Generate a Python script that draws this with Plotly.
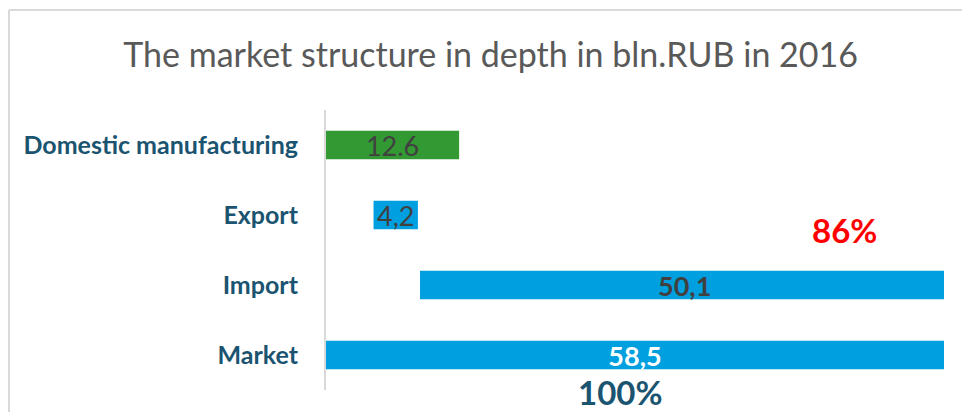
import plotly.graph_objects as go

# Market structure, bln. RUB, 2016 (bottom to top)
categories = ["Market", "Import", "Export", "Domestic manufacturing"]
values = [58.5, 50.1, 4.2, 12.6]
offsets = [0.0, 8.9, 4.5, 0.0]
value_labels = ["58,5", "50,1", "4,2", "12.6"]
bar_colors = ["#009FE0", "#009FE0", "#009FE0", "#339933"]
label_colors = ["#FFFFFF", "#404040", "#404040", "#404040"]
label_weights = ["bold", "bold", "normal", "normal"]

share_import = "86%"
share_market = "100%"

FONT = "Lato"
NAVY = "#1B5470"

fig = go.Figure()
for cat, val, base, txt, col, tcol, tw in zip(categories, values, offsets, value_labels,
                                              bar_colors, label_colors, label_weights):
    fig.add_trace(go.Bar(
        y=[cat], x=[val], base=[base], orientation="h",
        marker=dict(color=col, line=dict(width=0)),
        width=0.41,
        text=[txt], textposition="inside", insidetextanchor="middle",
        textangle=0, constraintext="none",
        textfont=dict(family=FONT, size=27, color=tcol, weight=tw),
        hoverinfo="skip", showlegend=False,
    ))

fig.add_annotation(x=49.1, y=1.79, text=share_import, showarrow=False,
                   font=dict(family=FONT, size=33, color="#FF0000", weight="bold"))
fig.add_annotation(x=27.8, xref="x", y=-0.007, yref="paper", yanchor="middle",
                   text=share_market, showarrow=False,
                   font=dict(family=FONT, size=33, color=NAVY, weight="bold"))

# light frame around the chart area
fig.add_shape(type="line", xref="paper", yref="paper", x0=-0.513, x1=1.1, y0=1.357, y1=1.357,
              line=dict(color="#D9D9D9", width=2))
fig.add_shape(type="line", xref="paper", yref="paper", x0=-0.513, x1=-0.513, y0=1.357, y1=-0.2,
              line=dict(color="#D9D9D9", width=2))

fig.update_layout(
    width=962, height=412,
    margin=dict(l=326, r=18, t=110, b=22),
    paper_bgcolor="white", plot_bgcolor="white",
    barmode="overlay",
    title=dict(text="The market structure in depth in bln.RUB in 2016",
               x=0.51, xanchor="center", y=0.866, yanchor="middle",
               font=dict(family=FONT, size=34, color="#595959")),
    xaxis=dict(range=[0, 58.5], visible=False, fixedrange=True),
    yaxis=dict(categoryorder="array", categoryarray=categories, range=[-0.5, 3.5],
               showline=True, linecolor="#D9D9D9", linewidth=2, showgrid=False,
               ticks="", ticklabelstandoff=21,
               tickfont=dict(family=FONT, size=25, color=NAVY, weight="bold")),
)

fig.write_html("out.html")
